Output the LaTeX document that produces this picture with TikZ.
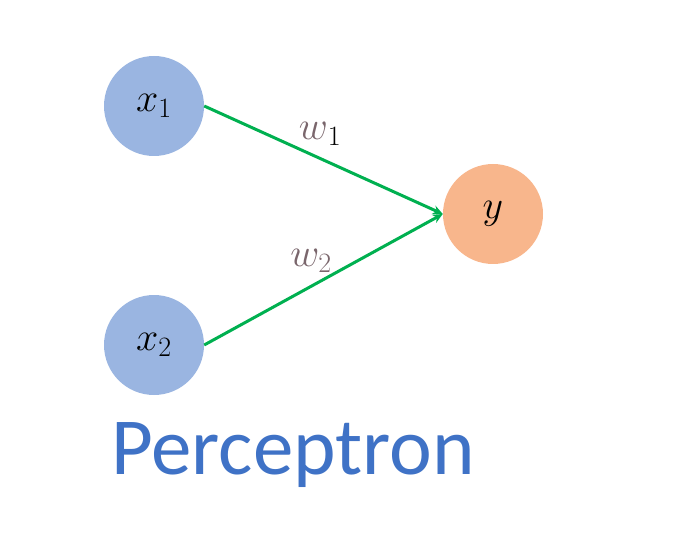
\RequirePackage{fix-cm}
\documentclass[tikz,border=0pt]{standalone}
\usepackage{amsmath}
\usepackage{fontspec}
\newfontfamily\carlito{Carlito}
\usepackage{tikz}
\usetikzlibrary{arrows.meta,positioning,shapes}
\usepackage{xcolor}
\definecolor{inblue}{HTML}{9AB5E1}
\definecolor{outorange}{HTML}{F8B68C}
\definecolor{linkgreen}{HTML}{00B050}
\definecolor{wgray}{HTML}{7A666C}
\definecolor{titleblue}{HTML}{3F72C6}

\begin{document}
\begin{tikzpicture}[x=1pt,y=-1pt,
    neuron/.style={circle, minimum size=100pt, inner sep=0pt, font=\fontsize{40}{44}\selectfont},
    link/.style={draw=linkgreen, line width=3pt, -{Stealth[length=10pt,width=9pt]}}]
  \useasboundingbox (0,0) rectangle (675,556);

  % 入力と出力
  \node[neuron, fill=inblue] (x1) at (154,106) {$x_1$};
  \node[neuron, fill=inblue] (x2) at (154,345) {$x_2$};
  \node[neuron, fill=outorange] (y) at (493,214) {$y$};

  % 重み
  \draw[link] (x1.east) -- (y.west);
  \draw[link] (x2.east) -- (y.west);
  \node[font=\fontsize{40}{44}\selectfont] (w1) at (320,134) {$\textcolor{wgray}{w}_1$};
  \node[font=\fontsize{40}{44}\selectfont, text=wgray] (w2) at (311,261) {$w_2$};

  % タイトル
  \node[font=\carlito\fontsize{81}{84}\selectfont, text=titleblue] (title) at (293,455) {Perceptron};
\end{tikzpicture}
\end{document}
